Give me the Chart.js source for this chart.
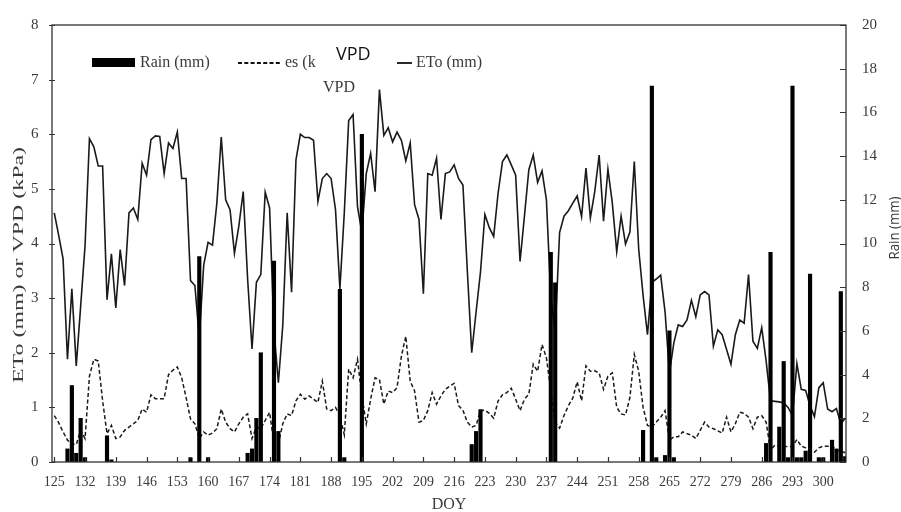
<!DOCTYPE html>
<html>
<head>
<meta charset="utf-8">
<script src="https://cdn.jsdelivr.net/npm/chart.js@4.4.1/dist/chart.umd.min.js"></script>
<style>
  html, body { margin: 0; padding: 0; background: #ffffff; }
  #wrap { width: 901px; height: 512px; }
</style>
</head>
<body>
<div id="wrap"><canvas id="c" width="901" height="512"></canvas></div>
<script>
// ---- Data ----
const startDOY = 125; // daily series start (DOY 125 .. 305)
const etoMM = [
  4.56, 4.15, 3.72, 1.88, 3.17, 1.76, 2.85, 3.96, 5.92, 5.77,
  5.42, 5.42, 2.97, 3.81, 2.82, 3.89, 3.23, 4.56, 4.65, 4.44,
  5.47, 5.25, 5.90, 5.97, 5.96, 5.28, 5.84, 5.74, 6.04, 5.19,
  5.19, 3.32, 3.23, 2.27, 3.60, 4.02, 3.97, 4.74, 5.95, 4.80,
  4.62, 3.82, 4.32, 4.95, 3.35, 2.07, 3.29, 3.43, 4.94, 4.65,
  2.40, 1.45, 2.50, 4.56, 3.11, 5.53, 6.00, 5.94, 5.94, 5.89,
  4.77, 5.19, 5.28, 5.19, 4.62, 3.17, 4.56, 6.25, 6.36, 4.68,
  4.20, 5.28, 5.65, 4.95, 6.82, 5.98, 6.12, 5.86, 6.04, 5.89,
  5.51, 5.84, 4.71, 4.44, 3.08, 5.28, 5.25, 5.56, 4.44, 5.28,
  5.31, 5.44, 5.19, 5.07, 3.50, 2.00, 2.75, 3.48, 4.53, 4.29,
  4.13, 4.92, 5.50, 5.62, 5.44, 5.25, 3.67, 4.50, 5.35, 5.62,
  5.12, 5.33, 4.80, 3.00, 2.40, 4.20, 4.50, 4.60, 4.74, 4.87,
  4.49, 5.38, 4.47, 4.95, 5.62, 4.41, 5.36, 4.74, 3.85, 4.50,
  3.99, 4.21, 5.50, 3.90, 3.05, 2.33, 3.29, 3.35, 3.42, 2.75,
  1.63, 2.18, 2.51, 2.48, 2.60, 2.96, 2.66, 3.06, 3.12, 3.06,
  2.12, 2.42, 2.33, 2.06, 1.79, 2.33, 2.60, 2.54, 3.43, 2.21,
  2.08, 2.46, 1.85, 1.12, 1.11, 1.10, 1.08, 1.00, 0.85, 1.80,
  1.33, 1.31, 1.03, 0.83, 1.36, 1.45, 0.97, 0.92, 0.98, 0.70,
  0.80
];
const vpdKPa = [
  0.85, 0.72, 0.55, 0.40, 0.33, 0.32, 0.58, 0.43, 1.57, 1.88,
  1.85, 1.12, 0.52, 0.67, 0.43, 0.46, 0.58, 0.64, 0.70, 0.76,
  0.97, 0.91, 1.23, 1.16, 1.16, 1.16, 1.60, 1.68, 1.74, 1.54,
  1.18, 0.79, 0.70, 0.43, 0.55, 0.49, 0.53, 0.61, 0.97, 0.73,
  0.61, 0.55, 0.70, 0.82, 0.88, 0.43, 0.64, 0.61, 0.76, 0.91,
  0.34, 0.34, 0.70, 0.88, 0.85, 1.12, 1.24, 1.15, 1.21, 1.15,
  1.09, 1.48, 0.97, 0.94, 1.00, 0.85, 0.50, 1.70, 1.54, 1.88,
  1.20, 0.70, 1.15, 1.54, 1.51, 1.06, 1.30, 1.27, 1.36, 1.94,
  2.30, 1.48, 1.30, 0.73, 0.76, 0.94, 1.27, 1.06, 1.21, 1.33,
  1.39, 1.44, 1.03, 0.95, 0.73, 0.64, 0.67, 0.94, 0.95, 0.89,
  0.80, 1.12, 1.23, 1.27, 1.35, 1.15, 0.94, 1.15, 1.24, 1.79,
  1.66, 2.15, 1.91, 1.30, 0.73, 0.62, 0.85, 1.03, 1.17, 1.47,
  1.12, 1.76, 1.66, 1.67, 1.63, 1.33, 1.57, 1.63, 1.00, 0.88,
  0.86, 1.18, 1.97, 1.66, 1.00, 0.67, 0.64, 0.73, 0.82, 0.94,
  0.40, 0.46, 0.46, 0.55, 0.52, 0.49, 0.43, 0.58, 0.73, 0.64,
  0.61, 0.57, 0.53, 0.82, 0.55, 0.70, 0.91, 0.89, 0.82, 0.61,
  0.82, 0.85, 0.73, 0.22, 0.31, 0.28, 0.29, 0.28, 0.29, 0.41,
  0.29, 0.26, 0.20, 0.18, 0.26, 0.29, 0.29, 0.29, 0.22, 0.20,
  0.17
];
const rainDOY = [128, 129, 130, 131, 132, 137, 138, 156, 158, 160,
  169, 170, 171, 172, 175, 176, 190, 191, 195, 220,
  221, 222, 238, 239, 259, 261, 262, 264, 265, 266,
  287, 288, 290, 291, 292, 293, 294, 295, 296, 297,
  299, 300, 302, 303, 304, 305];
const rainMM = [0.6, 3.5, 0.4, 2.0, 0.2, 1.2, 0.1, 0.2, 9.4, 0.2,
  0.4, 0.6, 2.0, 5.0, 9.2, 1.4, 7.9, 0.2, 15.0, 0.8,
  1.4, 2.4, 9.6, 8.2, 1.45, 17.2, 0.2, 0.3, 6.0, 0.2,
  0.85, 9.6, 1.6, 4.6, 0.2, 17.2, 0.2, 0.2, 0.5, 8.6,
  0.2, 0.2, 1.0, 0.6, 7.8, 0.25];
const xTickLabels = [125, 132, 139, 146, 153, 160, 167, 174, 181, 188, 195, 202, 209, 216, 223, 230, 237, 244, 251, 258, 265, 272, 279, 286, 293, 300];
const leftTicks = [0, 1, 2, 3, 4, 5, 6, 7, 8];
const rightTicks = [0, 2, 4, 6, 8, 10, 12, 14, 16, 18, 20];

// ---- Build datasets ----
const etoPts = etoMM.map((v, i) => ({ x: startDOY + i, y: v }));
const vpdPts = vpdKPa.map((v, i) => ({ x: startDOY + i, y: v }));
const rainPts = rainDOY.map((d, i) => ({ x: d, y: rainMM[i] }));

const SERIF = '"Liberation Serif", "Times New Roman", serif';
const SANS = '"Open Sans", "Liberation Sans", sans-serif';
const TXT = '#3a3a3a';
const AX = '#333333';

const decorPlugin = {
  id: 'decor',
  afterDraw(chart) {
    const ctx = chart.ctx;
    const a = chart.chartArea;
    const sx = chart.scales.x, sy = chart.scales.y, sy2 = chart.scales.y2;
    ctx.save();
    // plot border
    ctx.strokeStyle = AX;
    ctx.lineWidth = 1.3;
    ctx.setLineDash([]);
    ctx.strokeRect(a.left, a.top, a.right - a.left, a.bottom - a.top);
    // tick marks
    ctx.lineWidth = 1.2;
    ctx.beginPath();
    xTickLabels.forEach(v => {
      const px = Math.round(sx.getPixelForValue(v)) + 0.5;
      ctx.moveTo(px, a.bottom); ctx.lineTo(px, a.bottom - 5);
    });
    leftTicks.forEach(v => {
      const py = Math.round(sy.getPixelForValue(v)) + 0.5;
      ctx.moveTo(a.left - 3, py); ctx.lineTo(a.left + 3, py);
    });
    rightTicks.forEach(v => {
      const py = Math.round(sy2.getPixelForValue(v)) + 0.5;
      ctx.moveTo(a.right - 6, py); ctx.lineTo(a.right, py);
    });
    ctx.stroke();

    // legend (as in the reference)
    ctx.fillStyle = '#000';
    ctx.fillRect(92, 58, 43, 9);
    ctx.fillStyle = TXT;
    ctx.textBaseline = 'middle';
    ctx.textAlign = 'left';
    ctx.font = '16px ' + SERIF;
    ctx.fillText('Rain (mm)', 140, 63);
    ctx.strokeStyle = '#111';
    ctx.lineWidth = 1.8;
    ctx.setLineDash([4, 2.3]);
    ctx.beginPath(); ctx.moveTo(238, 63); ctx.lineTo(282, 63); ctx.stroke();
    ctx.setLineDash([]);
    ctx.fillText('es (k', 285, 63);
    ctx.beginPath(); ctx.moveTo(397, 63); ctx.lineTo(412, 63); ctx.stroke();
    ctx.fillText('ETo (mm)', 416, 63);
    ctx.fillStyle = '#111';
    ctx.font = '18px ' + SANS;
    ctx.fillText('VPD', 336, 55);
    ctx.fillStyle = TXT;
    ctx.font = '16px ' + SERIF;
    ctx.fillText('VPD', 323, 88);

    // axis titles
    ctx.fillStyle = TXT;
    ctx.textAlign = 'center';
    ctx.font = '16px ' + SERIF;
    ctx.fillText('DOY', (a.left + a.right) / 2, 505);

    // left title (stretched along its length like the reference)
    const lt = 'ETo (mm) or VPD (kPa)';
    ctx.save();
    ctx.translate(19, 265);
    ctx.rotate(-Math.PI / 2);
    ctx.font = '15px ' + SERIF;
    let w = ctx.measureText(lt).width;
    ctx.scale(236 / w, 1);
    ctx.fillText(lt, 0, 0);
    ctx.restore();

    // right title
    const rt = 'Rain (mm)';
    ctx.save();
    ctx.translate(895, 228);
    ctx.rotate(-Math.PI / 2);
    ctx.font = '14px ' + SANS;
    w = ctx.measureText(rt).width;
    ctx.scale(63 / w, 1);
    ctx.fillText(rt, 0, 0);
    ctx.restore();

    ctx.restore();
  }
};

new Chart(document.getElementById('c'), {
  type: 'bar',
  data: {
    datasets: [
      {
        type: 'bar', label: 'Rain (mm)', data: rainPts, yAxisID: 'y2', xAxisID: 'x',
        backgroundColor: '#000', borderWidth: 0, barThickness: 3.5, order: 0
      },
      {
        type: 'line', label: 'VPD', data: vpdPts, yAxisID: 'y', xAxisID: 'x',
        borderColor: '#1a1a1a', borderWidth: 1.5, borderDash: [4, 2.5],
        pointRadius: 0, tension: 0, fill: false, order: 1
      },
      {
        type: 'line', label: 'ETo (mm)', data: etoPts, yAxisID: 'y', xAxisID: 'x',
        borderColor: '#1a1a1a', borderWidth: 1.6,
        pointRadius: 0, tension: 0, fill: false, order: 2
      }
    ]
  },
  options: {
    responsive: false,
    devicePixelRatio: 1,
    animation: false,
    layout: { padding: { top: 20, left: 0, right: 0, bottom: 0 } },
    plugins: { legend: { display: false }, tooltip: { enabled: false }, title: { display: false } },
    scales: {
      x: {
        type: 'linear', min: 124.48, max: 305.18, offset: false,
        grid: { display: false, drawTicks: false },
        border: { display: false },
        afterBuildTicks: s => { s.ticks = xTickLabels.map(v => ({ value: v })); },
        afterFit: s => { s.height = 50; },
        ticks: {
          autoSkip: false, maxRotation: 0, minRotation: 0, padding: 12,
          color: TXT, font: { family: SERIF, size: 14 },
          callback: v => String(v)
        }
      },
      y: {
        type: 'linear', position: 'left', min: 0, max: 8,
        grid: { display: false, drawTicks: false },
        border: { display: false },
        afterFit: s => { s.width = 52; },
        ticks: { stepSize: 1, padding: 13.5, color: TXT, font: { family: SERIF, size: 15 } }
      },
      y2: {
        type: 'linear', position: 'right', min: 0, max: 20,
        grid: { display: false, drawTicks: false },
        border: { display: false },
        afterFit: s => { s.width = 55; },
        ticks: { stepSize: 2, padding: 16, color: TXT, font: { family: SERIF, size: 15 } }
      }
    }
  },
  plugins: [decorPlugin]
});
</script>
</body>
</html>
